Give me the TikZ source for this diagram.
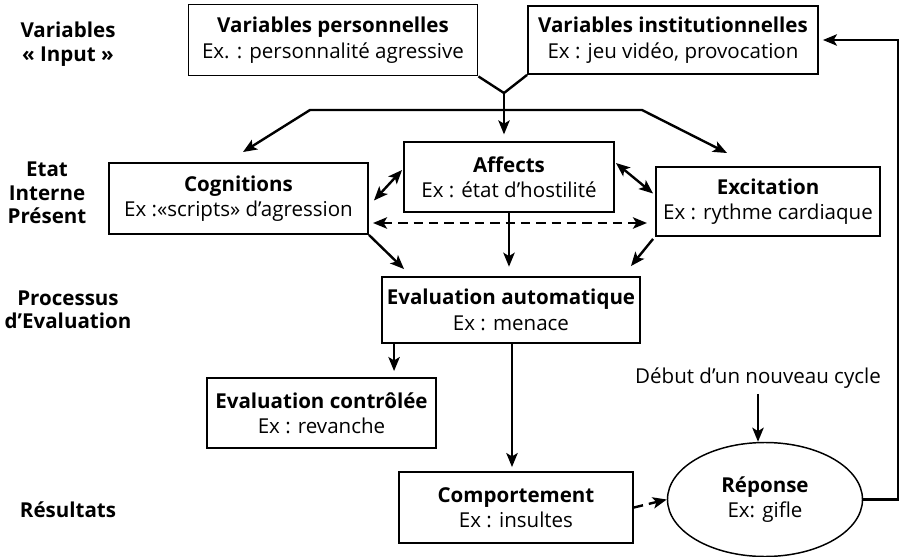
\documentclass[tikz,border=0pt]{standalone}
\usepackage{fontspec}
\setmainfont{Open Sans}
\usetikzlibrary{arrows.meta,shapes.geometric}
\begin{document}
\begin{tikzpicture}[x=0.75pt,y=-0.75pt,
  >={Stealth[length=10.5pt,width=8.5pt,inset=2.5pt]},
  every node/.style={font=\fontsize{15.4}{19}\selectfont, align=center, inner sep=0pt},
  box/.style={draw, line width=1.4pt, rectangle},
  lbl/.style={font=\fontsize{15.4}{17.5}\selectfont\bfseries},
  conn/.style={line width=1.8pt},
  dconn/.style={line width=1.8pt, dash pattern=on 7pt off 4.5pt}]
\useasboundingbox (0,0) rectangle (901,557);

% left column labels
\node[lbl] (l1) at (68,44) {Variables\\« Input »};
\node[lbl] (l2) at (47,193) {Etat\\Interne\\Présent};
\node[lbl] (l3) at (68,310) {Processus\\d’Evaluation};
\node[lbl] (l4) at (68,510) {Résultats};

% boxes
\node[box, minimum width=289*0.75pt, minimum height=71*0.75pt] (vp) at (333,40)
  {\textbf{Variables personnelles}\\Ex. : personnalité agressive};
\node[box, minimum width=290*0.75pt, minimum height=68*0.75pt] (vi) at (673,40)
  {\textbf{Variables institutionnelles}\\Ex : jeu vidéo, provocation};
\node[box, minimum width=259*0.75pt, minimum height=71*0.75pt] (cog) at (238.5,198.5)
  {\textbf{Cognitions}\\Ex :«scripts» d’agression};
\node[box, minimum width=210*0.75pt, minimum height=70*0.75pt] (aff) at (509,177)
  {\textbf{Affects}\\Ex : état d’hostilité};
\node[box, minimum width=224*0.75pt, minimum height=69*0.75pt] (exc) at (768,201.5)
  {\textbf{Excitation}\\Ex : rythme cardiaque};
\node[box, minimum width=258*0.75pt, minimum height=66*0.75pt] (eauto) at (511,310)
  {\textbf{Evaluation automatique}\\Ex : menace};
\node[box, minimum width=229*0.75pt, minimum height=70*0.75pt] (ectrl) at (321.5,413)
  {\textbf{Evaluation contrôlée}\\Ex : revanche};
\node[box, minimum width=234*0.75pt, minimum height=71*0.75pt] (comp) at (516,507.5)
  {\textbf{Comportement}\\Ex : insultes};
\node[draw, ellipse, line width=1.1pt, minimum width=195*0.75pt, minimum height=114*0.75pt] (rep) at (765,499.5)
  {\textbf{Réponse}\\Ex: gifle};
\node (deb) at (758,378) {Début d’un nouveau cycle};

% coordinates
\coordinate (J) at (504,93);
\coordinate (L) at (310,110);
\coordinate (R) at (642,110);
\coordinate (cogin) at (243,152);
\coordinate (excin) at (727,153);
\coordinate (dl) at (373,223);
\coordinate (dr) at (647,223);
\coordinate (RX) at (898,0);

% connectors
\draw[conn] (vp.south east) -- (J) -- (vi.south west);
\draw[conn,->,shorten >=5pt] (J) -- (J |- aff.north);
\draw[conn,<->] (cogin) -- (L) -- (R) -- (excin);
\draw[conn,<->] ([shift={(5,2)}]cog.east) -- ([shift={(-1,-7)}]aff.west);
\draw[conn,<->] ([shift={(1,-14)}]aff.east) -- ([shift={(-2,-8)}]exc.west);
\draw[dconn,<->] (dl) -- (dr);
\draw[conn,->,shorten >=7pt] (aff.south) -- (aff.south |- eauto.north);
\draw[conn,->] (cog.south east) -- ([shift={(23,-7)}]eauto.north west);
\draw[conn,->] ([shift={(-2,2)}]exc.south west) -- ([shift={(-10,-10)}]eauto.north east);
\draw[conn,->,shorten >=4.5pt] ([xshift=13*0.75pt]eauto.south west) -- ([xshift=13*0.75pt]eauto.south west |- ectrl.north);
\draw[conn,->,shorten >=3pt] ([xshift=1*0.75pt]eauto.south) -- ([xshift=1*0.75pt]eauto.south |- comp.north);
\draw[dconn,->] (comp.east) -- (rep.west);
\draw[conn,->,shorten >=3pt] (rep.east) -- (rep.east -| RX) |- (vi.east);
\draw[conn,->,shorten <=4pt] (deb.south) -- (deb.south |- rep.north);
\end{tikzpicture}
\end{document}
